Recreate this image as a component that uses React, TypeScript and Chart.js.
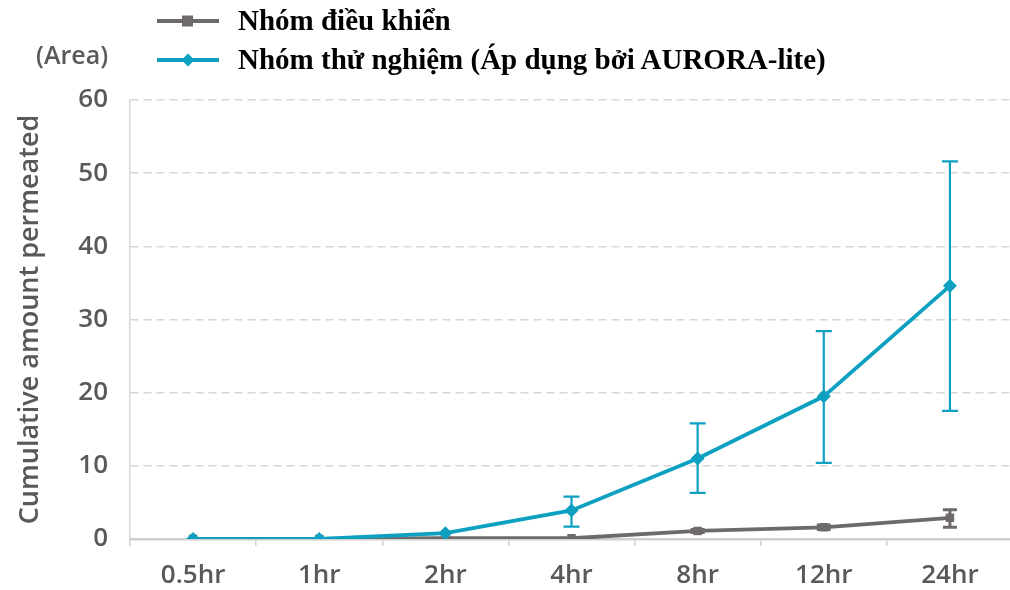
import React, { useEffect, useRef } from "react";
import { Chart, registerables } from "chart.js";

Chart.register(...registerables);

const categories = ["0.5hr", "1hr", "2hr", "4hr", "8hr", "12hr", "24hr"];
const controlValues = [0, 0, 0.1, 0.1, 1.1, 1.6, 2.9];
const controlHigh = [0, 0, 0.1, 0.1, 1.3, 1.9, 4.0];
const controlLow = [0, 0, 0.1, 0.1, 0.9, 1.3, 1.6];
const testValues = [0, 0, 0.8, 3.9, 11.0, 19.5, 34.6];
const testHigh = [0, 0, 0.8, 5.8, 15.8, 28.4, 51.6];
const testLow = [0, 0, 0.8, 1.7, 6.3, 10.4, 17.5];
const yTicks = [0, 10, 20, 30, 40, 50, 60];

const BLUE = "#0ea0c1";
const GRAY = "#6f6a6a";
const TEXT = "#595959";

const errorBarPlugin = {
  id: "errorBars",
  afterDatasetsDraw(chart: any) {
    const ctx = chart.ctx;
    const yScale = chart.scales.y;
    chart.data.datasets.forEach((ds: any, di: number) => {
      const meta = chart.getDatasetMeta(di);
      const hi: number[] = ds.errHigh;
      const lo: number[] = ds.errLow;
      if (!hi || !lo) return;
      ctx.save();
      ctx.strokeStyle = ds.borderColor;
      ctx.lineWidth = ds.errWidth;
      meta.data.forEach((pt: any, i: number) => {
        if (hi[i] - lo[i] < 0.3) return;
        const x = pt.x;
        const yh = yScale.getPixelForValue(hi[i]);
        const yl = yScale.getPixelForValue(lo[i]);
        const cw = ds.capWidth;
        ctx.beginPath();
        ctx.moveTo(x, yh);
        ctx.lineTo(x, yl);
        ctx.moveTo(x - cw / 2, yh);
        ctx.lineTo(x + cw / 2, yh);
        ctx.moveTo(x - cw / 2, yl);
        ctx.lineTo(x + cw / 2, yl);
        ctx.stroke();
      });
      ctx.restore();
    });
  },
};

function LegendMarker({ color, shape }: { color: string; shape: "square" | "diamond" }) {
  return (
    <svg width="62" height="16" style={{ display: "block" }}>
      <line x1="0" y1="8" x2="62" y2="8" stroke={color} strokeWidth="4" />
      {shape === "square" ? (
        <rect x="25" y="2.5" width="11" height="11" fill={color} />
      ) : (
        <polygon points="31,1.5 37.5,8 31,14.5 24.5,8" fill={color} />
      )}
    </svg>
  );
}

const tickFont = { family: "Open Sans", size: 26, weight: "600" };

export default function App() {
  const canvasRef = useRef<HTMLCanvasElement>(null);

  useEffect(() => {
    document.body.style.margin = "0";
    const canvas = canvasRef.current!;
    const chart = new Chart(canvas, {
      type: "line",
      data: {
        labels: categories,
        datasets: [
          {
            label: "Nhóm điều khiển",
            data: controlValues,
            borderColor: GRAY,
            backgroundColor: GRAY,
            borderWidth: 3.8,
            pointStyle: "rect",
            pointRadius: 6,
            pointBorderWidth: 0,
            order: 2,
            errHigh: controlHigh,
            errLow: controlLow,
            capWidth: 14,
            errWidth: 3,
          } as any,
          {
            label: "Nhóm thử nghiệm (Áp dụng bởi AURORA-lite)",
            data: testValues,
            borderColor: BLUE,
            backgroundColor: BLUE,
            borderWidth: 3.8,
            pointStyle: "rectRot",
            pointRadius: 7,
            pointBorderWidth: 0,
            order: 1,
            errHigh: testHigh,
            errLow: testLow,
            capWidth: 16,
            errWidth: 2.2,
          } as any,
        ],
      },
      options: {
        animation: false,
        responsive: false,
        layout: { padding: { top: 100, left: 14, right: 0, bottom: 0 } },
        plugins: {
          legend: { display: false },
          tooltip: { enabled: false },
        },
        scales: {
          x: {
            type: "category",
            offset: true,
            grid: {
              offset: true,
              drawOnChartArea: false,
              drawTicks: true,
              tickLength: 7,
              color: "#d0d0d0",
              lineWidth: 1.5,
            },
            border: { color: "#cfcfcf", width: 2.5 },
            ticks: {
              color: TEXT,
              font: tickFont,
              padding: 14,
              maxRotation: 0,
            },
            afterFit(scale: any) {
              scale.height = 51;
            },
          },
          y: {
            min: 0,
            max: 60,
            afterBuildTicks(scale: any) {
              scale.ticks = yTicks.map((v) => ({ value: v }));
            },
            grid: {
              color: "#d6d6d6",
              lineWidth: 1.5,
              drawTicks: false,
            },
            border: { color: "#d6d6d6", width: 1.5, dash: [8, 5] },
            ticks: {
              color: TEXT,
              font: tickFont,
              padding: 22,
            },
            title: {
              display: true,
              text: "Cumulative amount permeated",
              color: TEXT,
              font: { family: "Open Sans", size: 27, weight: "600" },
              padding: { top: 0, bottom: 0 },
            },
            afterFit(scale: any) {
              scale.width = 116;
            },
          },
        },
      } as any,
      plugins: [errorBarPlugin],
    });
    return () => chart.destroy();
  }, []);

  return (
    <div style={{ position: "relative", width: 1010, height: 590, background: "#fff", overflow: "hidden" }}>
      <canvas ref={canvasRef} width={1020} height={590} style={{ position: "absolute", left: 0, top: 0 }} />
      <div
        style={{
          position: "absolute",
          left: 36,
          top: 37,
          fontFamily: "Open Sans",
          fontWeight: 600,
          fontSize: 25,
          lineHeight: "34px",
          color: TEXT,
        }}
      >
        (Area)
      </div>
      <div
        style={{
          position: "absolute",
          left: 157,
          top: 1,
          fontFamily: "'Liberation Serif', 'Times New Roman', serif",
          fontWeight: 700,
          fontSize: 29,
          color: "#000",
          lineHeight: "39px",
        }}
      >
        <div style={{ display: "flex", alignItems: "center" }}>
          <LegendMarker color={GRAY} shape="square" />
          <span style={{ marginLeft: 19 }}>Nhóm điều khiển</span>
        </div>
        <div style={{ display: "flex", alignItems: "center" }}>
          <LegendMarker color={BLUE} shape="diamond" />
          <span style={{ marginLeft: 19 }}>Nhóm thử nghiệm (Áp dụng bởi AURORA-lite)</span>
        </div>
      </div>
    </div>
  );
}
